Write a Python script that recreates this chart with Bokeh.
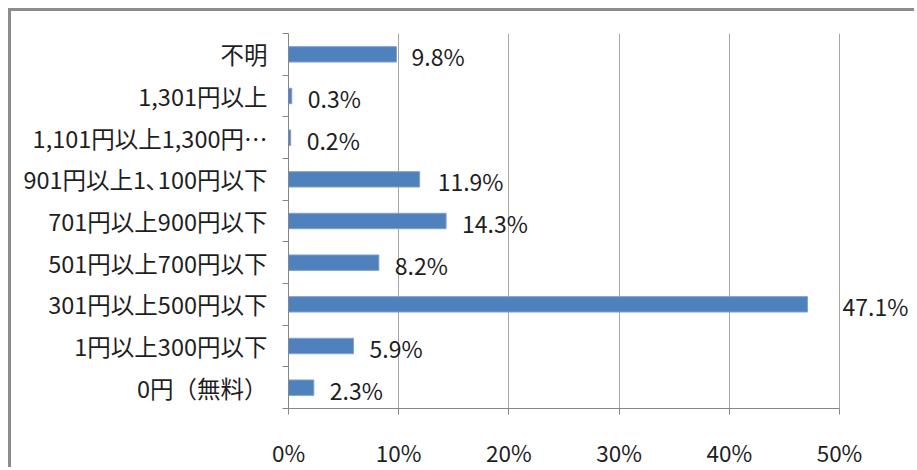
from bokeh.plotting import figure
from bokeh.models import Range1d, FixedTicker, ColumnDataSource, LabelSet
from bokeh.core.properties import value
from bokeh.embed import file_html
from bokeh.resources import INLINE

categories = ["0円（無料）", "1円以上300円以下", "301円以上500円以下", "501円以上700円以下",
              "701円以上900円以下", "901円以上1､100円以下", "1,101円以上1,300円…",
              "1,301円以上", "不明"]
values = [2.3, 5.9, 47.1, 8.2, 14.3, 11.9, 0.2, 0.3, 9.8]
x_ticks = [0, 10, 20, 30, 40, 50]
x_tick_labels = ["0%", "10%", "20%", "30%", "40%", "50%"]
label_dx = [16, 16, 35, 16, 16, 18, 16, 16, 15]

FONT = "Noto Sans CJK JP"
TXT = "#1e1e1e"

# layout (pixels)
W, H = 906, 459
LEFT, RIGHT_PAD, TOP, BOTTOM = 277, 4, 22, 48
AXIS_PX = 551  # pixel length of the 0..50 % axis
frame_w = W - LEFT - RIGHT_PAD
x_end = x_ticks[-1] * frame_w / AXIS_PX

centers = [i + 0.5 for i in range(len(categories))]
bounds = [i for i in range(len(categories) + 1)]
src = ColumnDataSource(dict(y=centers, v=values, lab=[f"{v:.1f}%" for v in values], dx=label_dx))

p = figure(width=W, height=H, output_backend="svg", toolbar_location=None,
           x_range=Range1d(0, x_end), y_range=Range1d(0, len(categories)),
           min_border_left=LEFT, min_border_right=RIGHT_PAD, min_border_top=TOP,
           min_border_bottom=BOTTOM)
p.styles = {"margin-left": "8px", "margin-top": "8px",
            "border-top": "3px solid #8c8c8c", "border-left": "3px solid #8c8c8c"}
p.outline_line_color = None
p.background_fill_color = "white"
p.border_fill_color = "white"

p.hbar(y="y", left=0, right="v", height=0.37, source=src,
       fill_color="#4f81bd", line_color="#7fa3d0", line_width=1)
p.add_layout(LabelSet(x="v", y="y", text="lab", x_offset="dx", y_offset=-2, source=src,
                      text_baseline="middle", text_align="left", text_font=value(FONT),
                      text_font_size="23px", text_color=TXT))

xa = p.xaxis[0]
xa.bounds = (x_ticks[0], x_ticks[-1])
xa.ticker = FixedTicker(ticks=x_ticks, minor_ticks=[])
xa.major_label_overrides = {t: l for t, l in zip(x_ticks, x_tick_labels)}
xa.major_tick_out = 6
xa.major_tick_in = 0
xa.minor_tick_out = 0
xa.minor_tick_in = 0
xa.axis_line_color = "#868686"
xa.major_tick_line_color = "#868686"
xa.major_label_text_font = FONT
xa.major_label_text_font_size = "22.5px"
xa.major_label_text_color = TXT
xa.major_label_standoff = 21

ya = p.yaxis[0]
ya.ticker = FixedTicker(ticks=centers, minor_ticks=bounds)
ya.major_label_overrides = {c: n for c, n in zip(centers, categories)}
ya.major_tick_out = 0
ya.major_tick_in = 0
ya.minor_tick_out = 6
ya.minor_tick_in = 0
ya.axis_line_color = "#868686"
ya.minor_tick_line_color = "#868686"
ya.major_label_text_font = FONT
ya.major_label_text_font_size = "23.5px"
ya.major_label_text_color = TXT
ya.major_label_standoff = 15

p.ygrid.visible = False
p.xgrid.ticker = FixedTicker(ticks=x_ticks)
p.xgrid.grid_line_color = "#a6a6a6"

open("out.html", "w").write(file_html(p, INLINE))
